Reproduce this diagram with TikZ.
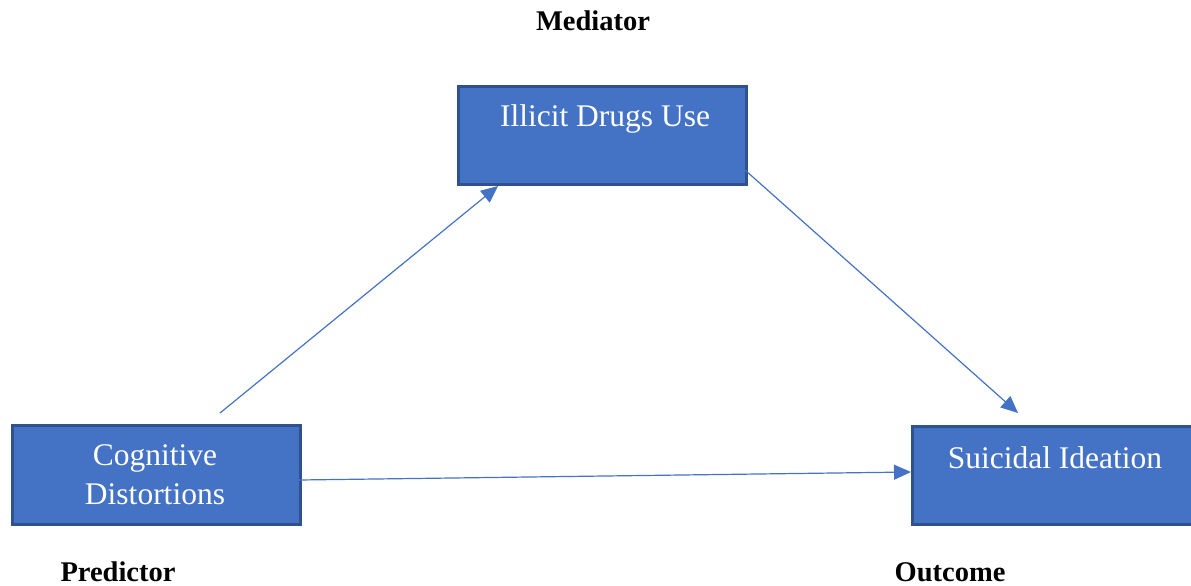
\documentclass[tikz,border=0pt]{standalone}
\usepackage{fontspec}
\setmainfont{Liberation Serif}
\usetikzlibrary{arrows.meta}
\definecolor{boxfill}{HTML}{4472C4}
\definecolor{boxedge}{HTML}{2F528F}
\begin{document}
\begin{tikzpicture}[x=1pt,y=-1pt,
  box/.style={draw=boxedge, line width=2.5pt, fill=boxfill, inner sep=0pt, anchor=north west},
  boxtext/.style={text=white, font=\fontsize{31.5}{39}\selectfont, anchor=base, inner sep=0pt},
  role/.style={font=\fontsize{28.5}{34}\selectfont\bfseries, anchor=base, inner sep=0pt},
  link/.style={draw=boxfill, line width=1.2pt, -{Triangle[length=17pt,width=15pt]}}]
\useasboundingbox (0,0) rectangle (1191,586);
% boxes
\node[box, minimum width=288pt, minimum height=98pt] (med) at (457,85) {};
\node[box, minimum width=288pt, minimum height=99pt] (pred) at (11,424) {};
\node[box, minimum width=284pt, minimum height=98pt] (out) at (911,425) {};
% box texts
\node[boxtext] (medt) at (605,126) {Illicit Drugs Use};
\node[boxtext] (predt1) at (155,465) {Cognitive};
\node[boxtext] (predt2) at (155,504) {Distortions};
\node[boxtext] (outt) at (1055,468) {Suicidal Ideation};
% role labels
\node[role] (lmed) at (593,31) {Mediator};
\node[role] (lpred) at (118,581) {Predictor};
\node[role] (lout) at (950,581) {Outcome};
% connector ends
\coordinate (a1s) at (220,413);
\coordinate (a1e) at (498,186);
\coordinate (a2s) at (745,170);
\coordinate (a2e) at (1018,413);
\coordinate (a3s) at (299,480);
\coordinate (a3e) at (911,472);
\draw[link] (a1s) -- (a1e);
\draw[link] (a2s) -- (a2e);
\draw[link] (a3s) -- (a3e);
\end{tikzpicture}
\end{document}
